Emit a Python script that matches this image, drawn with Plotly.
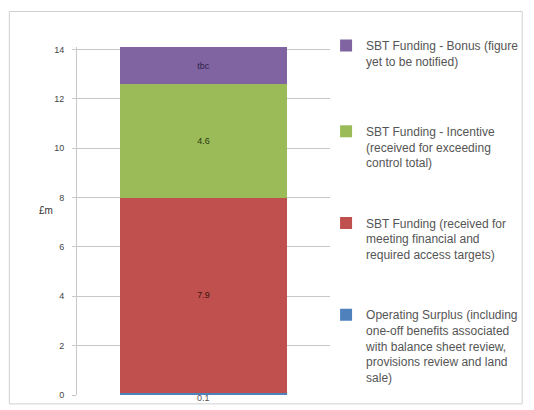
import plotly.graph_objects as go

category = ["Total"]
series_names = [
    "Operating Surplus (including<br>one-off benefits associated<br>with balance sheet review,<br>provisions review and land<br>sale)",
    "SBT Funding (received for<br>meeting financial and<br>required access targets)",
    "SBT Funding - Incentive<br>(received for exceeding<br>control total)",
    "SBT Funding - Bonus (figure<br>yet to be notified)",
]
series_values = [0.1, 7.9, 4.6, 1.5]
series_labels = ["0.1", "7.9", "4.6", "tbc"]
series_colors = ["#4F81BD", "#C0504D", "#9BBB59", "#8064A2"]
label_colors = ["#555555", "#3a1414", "#2c3a12", "#2e2346"]
y_ticks = [0, 2, 4, 6, 8, 10, 12, 14]

# plot area in pixels
L, R, T, B = 77, 335, 47, 400
W, H = 534, 410

def px_x(p):
    return (p - L) / (R - L)

def px_y(p):
    return (B - p) / (B - T)

legend_tops = [304, 211, 118, 31]
legend_keys = ["legend4", "legend3", "legend2", "legend"]

fig = go.Figure()
for i in range(4):
    fig.add_trace(go.Bar(
        x=category, y=[series_values[i]], name=series_names[i],
        marker=dict(color=series_colors[i], line=dict(width=0)),
        text=[series_labels[i] if i > 0 else ""], textposition="inside",
        insidetextanchor="middle", constraintext="none",
        textfont=dict(size=9, color=label_colors[i], family="Liberation Sans"),
        legend=legend_keys[i], hoverinfo="skip",
    ))

legend_common = dict(
    font=dict(size=12, color="#555555", family="Liberation Sans"),
    bgcolor="rgba(0,0,0,0)", xanchor="left", yanchor="top",
    valign="top", itemwidth=30,
)
layout_legends = {}
for i in range(4):
    layout_legends[legend_keys[i]] = dict(x=px_x(331), y=px_y(legend_tops[i]), **legend_common)

fig.update_layout(
    width=W, height=H,
    margin=dict(l=L, r=W - R, t=T, b=H - B),
    barmode="stack", bargap=0.34,
    paper_bgcolor="white", plot_bgcolor="white",
    showlegend=True,
    xaxis=dict(type="category", showticklabels=False, showgrid=False, zeroline=False,
               showline=False, fixedrange=True),
    yaxis=dict(range=[0, 14.1], tickvals=y_ticks, ticktext=[str(v) for v in y_ticks],
               showgrid=True, gridcolor="#c8c8c8", gridwidth=1, zeroline=False,
               showline=True, linecolor="#c8c8c8", ticks="outside", ticklen=4,
               tickcolor="#c8c8c8", tickfont=dict(size=9, color="#444444", family="Liberation Sans"),
               ticklabelstandoff=6),
    annotations=[
        dict(text="£m", x=px_x(36), y=px_y(213), xref="paper", yref="paper",
             showarrow=False, font=dict(size=10, color="#333333", family="Liberation Sans")),
        dict(text=series_labels[0], x=category[0], y=0, xref="x", yref="y",
             yanchor="middle", yshift=-3, showarrow=False,
             font=dict(size=9, color=label_colors[0], family="Liberation Sans")),
    ],
    shapes=[dict(type="rect", xref="paper", yref="paper",
                 x0=px_x(8), x1=px_x(531), y0=px_y(409), y1=px_y(11),
                 line=dict(color="#d0d0d0", width=1), layer="below")],
    **layout_legends,
)

fig.write_html("out.html")
